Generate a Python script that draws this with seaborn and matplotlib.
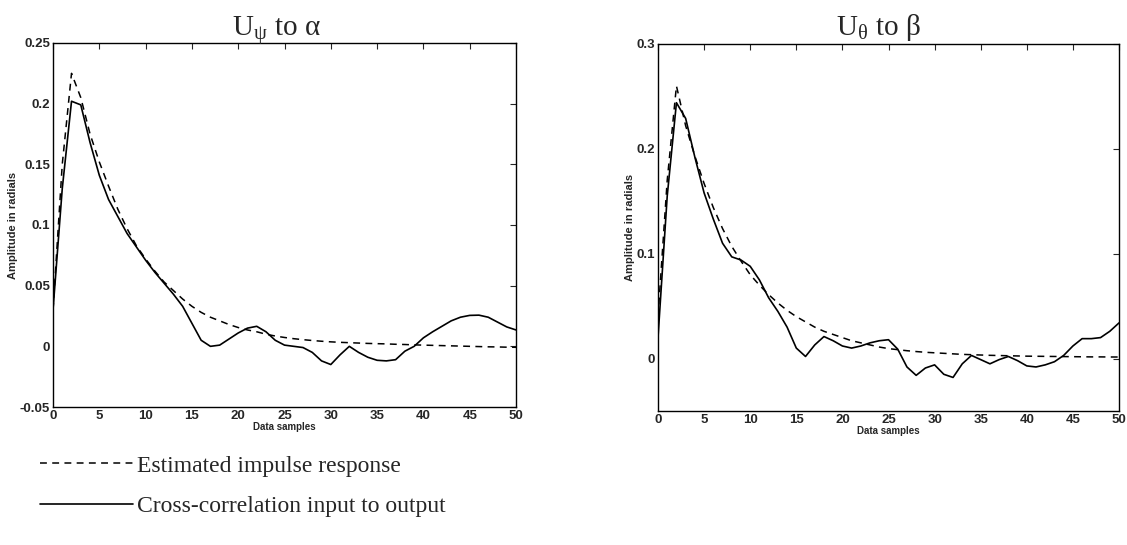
import matplotlib
matplotlib.use("Agg")
import matplotlib.pyplot as plt
import numpy as np
import pandas as pd
import seaborn as sns

# ---------------- data ----------------
samples = list(range(51))

alpha_estimated = [0.03, 0.15, 0.225, 0.205, 0.175, 0.152, 0.132, 0.113, 0.097, 0.083,
                   0.072, 0.062, 0.053, 0.046, 0.039, 0.033, 0.028, 0.024, 0.021, 0.018,
                   0.0155, 0.0135, 0.012, 0.010, 0.0085, 0.0073, 0.0063, 0.0055, 0.0048, 0.0042,
                   0.0037, 0.0033, 0.003, 0.0027, 0.0024, 0.0022, 0.002, 0.0017, 0.0015, 0.0012,
                   0.001, 0.0008, 0.0006, 0.0004, 0.0002, 0.0, -0.0002, -0.0004, -0.0005, -0.0007,
                   -0.0008]
alpha_crosscorr = [0.03, 0.13, 0.202, 0.199, 0.168, 0.141, 0.121, 0.107, 0.093, 0.082,
                   0.071, 0.061, 0.052, 0.043, 0.033, 0.019, 0.005, 0.0, 0.001, 0.006,
                   0.011, 0.015, 0.0165, 0.012, 0.005, 0.001, 0.0, -0.001, -0.005, -0.012,
                   -0.015, -0.007, 0.0, -0.005, -0.009, -0.0115, -0.012, -0.011, -0.004, 0.0,
                   0.007, 0.012, 0.0165, 0.021, 0.024, 0.0255, 0.0257, 0.024, 0.02, 0.016,
                   0.0135]

beta_estimated = [0.04, 0.17, 0.26, 0.222, 0.193, 0.167, 0.144, 0.124, 0.107, 0.093,
                  0.08, 0.07, 0.061, 0.053, 0.046, 0.04, 0.035, 0.03, 0.026, 0.023,
                  0.02, 0.017, 0.015, 0.013, 0.011, 0.0095, 0.0085, 0.0075, 0.0067, 0.006,
                  0.0055, 0.005, 0.0045, 0.004, 0.0037, 0.0034, 0.0031, 0.0029, 0.0027, 0.0025,
                  0.0023, 0.0022, 0.0021, 0.002, 0.0019, 0.0018, 0.0017, 0.0016, 0.0016, 0.0015,
                  0.0015]
beta_crosscorr = [0.02, 0.155, 0.244, 0.229, 0.192, 0.158, 0.133, 0.11, 0.097, 0.094,
                  0.088, 0.075, 0.058, 0.045, 0.03, 0.01, 0.002, 0.013, 0.021, 0.017,
                  0.012, 0.010, 0.012, 0.015, 0.017, 0.018, 0.009, -0.008, -0.016, -0.009,
                  -0.006, -0.015, -0.018, -0.005, 0.003, -0.001, -0.005, -0.001, 0.002, -0.002,
                  -0.007, -0.008, -0.006, -0.003, 0.003, 0.012, 0.019, 0.019, 0.020, 0.026,
                  0.034]

x_ticks = [0, 5, 10, 15, 20, 25, 30, 35, 40, 45, 50]
x_ticklabels = ["0", "5", "10", "15", "20", "25", "30", "35", "40", "45", "50"]
left_yticks = [-0.05, 0, 0.05, 0.1, 0.15, 0.2, 0.25]
left_yticklabels = ["-0.05", "0", "0.05", "0.1", "0.15", "0.2", "0.25"]
right_yticks = [0, 0.1, 0.2, 0.3]
right_yticklabels = ["0", "0.1", "0.2", "0.3"]

titles = [r"U$_\mathregular{ψ}$ to α", r"U$_\mathregular{θ}$ to β"]
series_labels = ["Estimated impulse response", "Cross-correlation input to output"]
x_label = "Data samples"
y_label = "Amplitude in radials"

# ---------------- style ----------------
sns.set_style("white")
plt.rcParams["font.family"] = ["Liberation Sans", "DejaVu Sans"]
plt.rcParams["axes.edgecolor"] = "black"
plt.rcParams["axes.linewidth"] = 1.0

fig = plt.figure(figsize=(11.27, 5.45), dpi=100)
ax1 = fig.add_axes([53 / 1127, 1 - 407 / 545, 463 / 1127, 364 / 545])
ax2 = fig.add_axes([658 / 1127, 1 - 411 / 545, 461 / 1127, 367 / 545])

panels = [
    (ax1, alpha_estimated, alpha_crosscorr, (-0.05, 0.25), left_yticks, left_yticklabels,
     titles[0], -0.0756, 0.482, 5.25),
    (ax2, beta_estimated, beta_crosscorr, (-0.05, 0.3), right_yticks, right_yticklabels,
     titles[1], -0.05, 0.477, 6.75),
]

for ax, est, cc, ylim, yt, ytl, title, ylab_x, title_x, title_pad in panels:
    df = pd.DataFrame({"sample": samples, "est": est, "cc": cc})
    sns.lineplot(data=df, x="sample", y="est", ax=ax, color="black", linewidth=1.1,
                 linestyle=(0, (4.5, 3.5)), label=series_labels[0])
    sns.lineplot(data=df, x="sample", y="cc", ax=ax, color="black", linewidth=1.2,
                 label=series_labels[1])
    if ax.get_legend() is not None:
        ax.get_legend().remove()
    ax.set_xlim(0, 50)
    ax.set_ylim(*ylim)
    ax.set_xticks(x_ticks)
    ax.set_xticklabels(x_ticklabels, fontsize=9.5, fontweight="bold")
    ax.set_yticks(yt)
    ax.set_yticklabels(ytl, fontsize=9.5, fontweight="bold")
    ax.tick_params(direction="in", length=4, width=0.8, top=True, right=True, pad=2)
    ax.set_xlabel(x_label, fontsize=7, fontweight="bold", labelpad=0)
    ax.set_ylabel(y_label, fontsize=8, fontweight="bold")
    ax.yaxis.set_label_coords(ylab_x, 0.5)
    ax.set_title(title, fontsize=21, family=["Liberation Serif", "DejaVu Serif"],
                 pad=title_pad, x=title_x)
    for s in ax.spines.values():
        s.set_visible(True)
        s.set_color("black")

handles, labels = ax1.get_legend_handles_labels()
fig.legend(handles, labels, loc="center left", bbox_to_anchor=(40 / 1127, 1 - 486 / 545),
           frameon=False, handlelength=3.95, handletextpad=0.15,
           labelspacing=0.8, borderpad=0, borderaxespad=0,
           prop={"family": ["Liberation Serif", "DejaVu Serif"], "size": 17})

fig.savefig("out.png", dpi=100)
